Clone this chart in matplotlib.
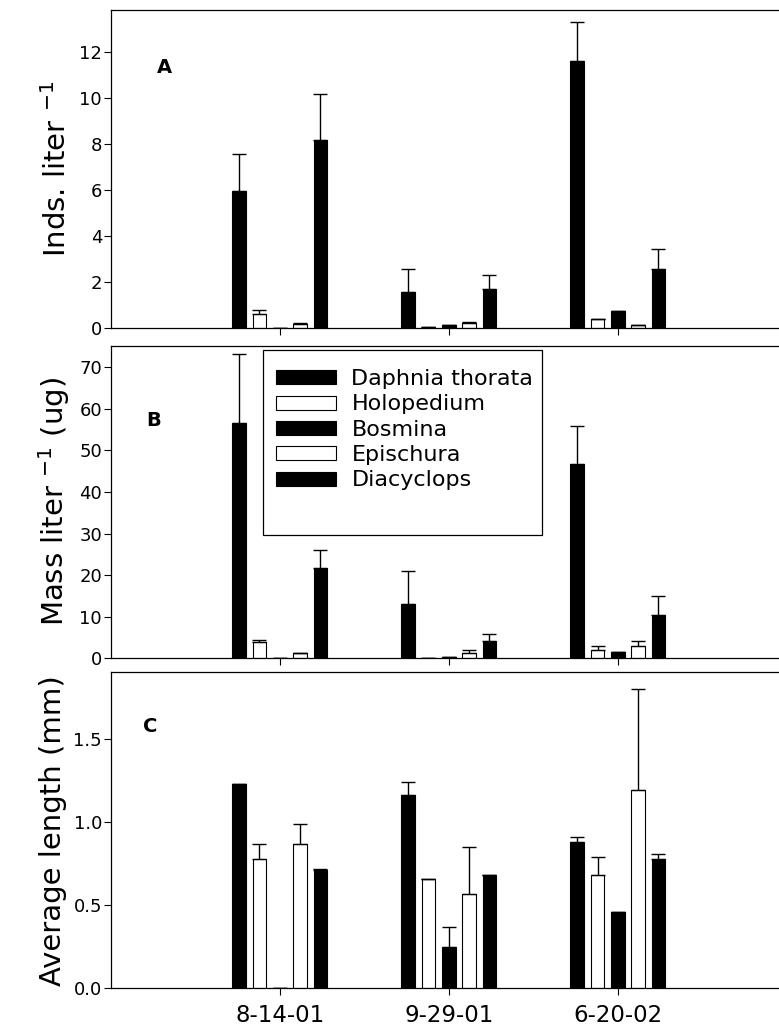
import numpy as np
import matplotlib
matplotlib.use("Agg")
import matplotlib.pyplot as plt
from matplotlib.patches import Rectangle

plt.rcParams['font.family'] = ['DejaVu Sans']
plt.rcParams['mathtext.default'] = 'regular'

# data
dates = ['8-14-01', '9-29-01', '6-20-02']
species = ['Daphnia thorata', 'Holopedium', 'Bosmina', 'Epischura', 'Diacyclops']
fills = ['black', 'white', 'black', 'white', 'black']

# panel A: individuals per liter (rows = species, cols = dates)
dens_mean = [[5.95, 1.58, 11.6],
             [0.64, 0.05, 0.39],
             [0.0, 0.16, 0.75],
             [0.20, 0.23, 0.14],
             [8.18, 1.71, 2.56]]
dens_err = [[1.6, 1.0, 1.7],
            [0.17, 0.0, 0.03],
            [0.0, 0.0, 0.0],
            [0.02, 0.05, 0.0],
            [1.98, 0.62, 0.89]]

# panel B: mass per liter (ug)
mass_mean = [[56.7, 13.1, 46.7],
             [3.8, 0.1, 2.0],
             [0.0, 0.4, 1.6],
             [1.2, 1.3, 2.9],
             [21.6, 4.2, 10.4]]
mass_err = [[16.5, 8.0, 9.2],
            [0.65, 0.0, 0.9],
            [0.0, 0.0, 0.0],
            [0.0, 0.6, 1.3],
            [4.4, 1.6, 4.5]]

# panel C: average length (mm)
len_mean = [[1.23, 1.16, 0.88],
            [0.78, 0.66, 0.68],
            [0.0, 0.25, 0.46],
            [0.87, 0.57, 1.19],
            [0.71, 0.68, 0.78]]
len_err = [[0.0, 0.08, 0.03],
           [0.09, 0.0, 0.11],
           [0.0, 0.12, 0.0],
           [0.12, 0.28, 0.61],
           [0.01, 0.0, 0.03]]

fig = plt.figure(figsize=(7.79, 10.36), dpi=100)
axA = fig.add_axes([0.1421, 0.6831, 0.868, 0.3072])
axB = fig.add_axes([0.1421, 0.3646, 0.868, 0.3017])
axC = fig.add_axes([0.1421, 0.0460, 0.868, 0.3050])

x = np.arange(len(dates))
step = 0.12
width = 0.08


def draw_panel(ax, means, errs, ylim, yticks, ylabel, letter, lpos):
    for i, sp in enumerate(species):
        xs = x + (i - 2) * step
        ax.bar(xs, means[i], width, color=fills[i], edgecolor='black',
               linewidth=0.8, label=sp, zorder=2)
        ax.errorbar(xs, means[i], yerr=[np.zeros(3), errs[i]], fmt='none',
                    ecolor='black', elinewidth=1, capsize=4.7, capthick=1,
                    zorder=3)
    ax.set_xlim(-1, 3)
    ax.set_ylim(*ylim)
    ax.set_yticks(yticks)
    ax.set_xticks(x)
    ax.set_xticklabels([])
    ax.tick_params(axis='both', direction='out', length=5, width=0.8,
                   labelsize=13, pad=1.2)
    ax.set_ylabel(ylabel, fontsize=21, labelpad=5)
    ax.text(lpos[0], lpos[1], letter, transform=ax.transAxes,
            fontsize=14, fontweight='bold', ha='center', va='center')
    for s in ax.spines.values():
        s.set_linewidth(0.9)


draw_panel(axA, dens_mean, dens_err, (0, 13.8), [0, 2, 4, 6, 8, 10, 12],
           r'Inds. liter $^{-1}$', 'A', (0.080, 0.818))
draw_panel(axB, mass_mean, mass_err, (0, 75.2), [0, 10, 20, 30, 40, 50, 60, 70],
           r'Mass liter $^{-1}$ (ug)', 'B', (0.064, 0.762))
draw_panel(axC, len_mean, len_err, (0, 1.9), [0.0, 0.5, 1.0, 1.5],
           'Average length (mm)', 'C', (0.059, 0.830))

axC.yaxis.set_major_formatter(matplotlib.ticker.FormatStrFormatter('%.1f'))
axC.set_xticklabels(dates, fontsize=16.5)
axC.tick_params(axis='x', pad=6)

# legend box is taller than its entries in the original, so draw the frame apart
axB.add_patch(Rectangle((0.2253, 0.394), 0.638 - 0.2253, 0.986 - 0.394,
                        transform=axB.transAxes, fill=True, facecolor='white',
                        edgecolor='black', linewidth=0.9, zorder=4))
leg = axB.legend(loc='upper left', bbox_to_anchor=(0.245, 0.925),
                 borderaxespad=0, fontsize=16, frameon=False,
                 handlelength=2.7, handleheight=0.6,
                 labelspacing=0.24, borderpad=0, handletextpad=0.68)
leg.set_zorder(5)

fig.savefig('out.png', dpi=100)
